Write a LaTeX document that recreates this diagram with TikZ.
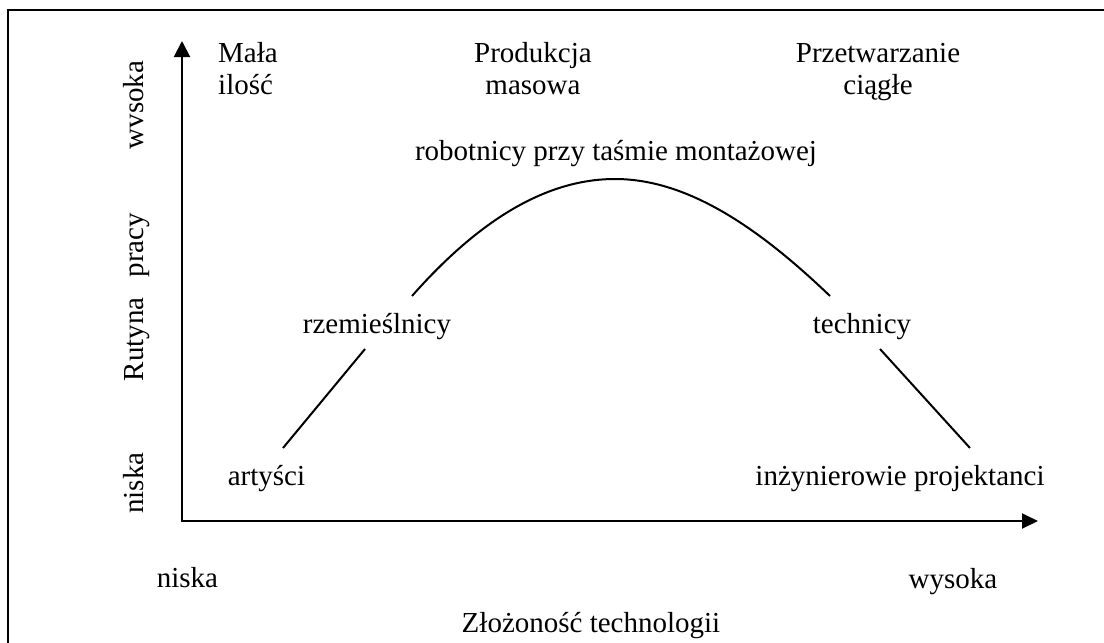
\documentclass[tikz,border=0pt]{standalone}
\usepackage{fontspec}
\setmainfont{Liberation Serif}
\usetikzlibrary{arrows.meta}
\begin{document}
\begin{tikzpicture}[x=1pt,y=-1pt,
  lbl/.style={inner sep=0pt, font=\fontsize{29}{32.5}\selectfont},
  axes/.style={line width=2pt, line join=miter,
    {Triangle[length=16pt,width=16pt]}-{Triangle[length=16pt,width=15pt]}},
  curve/.style={line width=2pt}]
\useasboundingbox (0,0) rectangle (1104,643);
\clip (0,0) rectangle (1104,643);
% frame (runs off the right and bottom edges)
\draw[line width=2.5pt] (8,10) rectangle (1115,655);

% axes
\coordinate (ytip) at (182,41);
\coordinate (O) at (182,521);
\coordinate (xtip) at (1038,521);
\draw[axes] (ytip) -- (O) -- (xtip);

% bell-shaped curve, interrupted by the labels
\coordinate (c1) at (283,448);
\coordinate (c2) at (365,349);
\coordinate (c3) at (412,296);
\coordinate (top) at (615,179);
\coordinate (c4) at (830,296);
\coordinate (c5) at (880,349);
\coordinate (c6) at (970,448);
\draw[curve] (c1) -- (c2);
\draw[curve] (c3) .. controls (480,219) and (547,179) .. (top)
  .. controls (687,179) and (758,227) .. (c4);
\draw[curve] (c5) -- (c6);

% column headings
\node[lbl, anchor=base west] (small) at (218,62)
  {\begin{tabular}[t]{@{}l@{}}Mała\\ilość\end{tabular}};
\node[lbl, anchor=base] (mass) at (533,62)
  {\begin{tabular}[t]{@{}c@{}}Produkcja\\masowa\end{tabular}};
\node[lbl, anchor=base] (cont) at (878,62)
  {\begin{tabular}[t]{@{}c@{}}Przetwarzanie\\ciągłe\end{tabular}};

% labels along the curve
\node[lbl, anchor=base] (rob) at (616,160) {robotnicy przy taśmie montażowej};
\node[lbl, anchor=base] (rzem) at (377,333) {rzemieślnicy};
\node[lbl, anchor=base] (tech) at (862,333) {technicy};
\node[lbl, anchor=base] (art) at (266.5,485) {artyści};
\node[lbl, anchor=base] (inz) at (900,485) {inżynierowie projektanci};

% horizontal axis labels
\node[lbl, anchor=base] (xlo) at (187.5,587) {niska};
\node[lbl, anchor=base] (xhi) at (953,588) {wysoka};
\node[lbl, anchor=base] (xlab) at (591,632) {Złożoność technologii};

% vertical axis labels
\node[lbl, rotate=90, anchor=base] (ylo) at (143,483) {niska};
\node[lbl, rotate=90, anchor=base] (ylab) at (143,297) {Rutyna\hspace{0.7em}pracy};
\node[lbl, rotate=90, anchor=base] (yhi) at (143,105) {wvsoka};
\end{tikzpicture}
\end{document}
